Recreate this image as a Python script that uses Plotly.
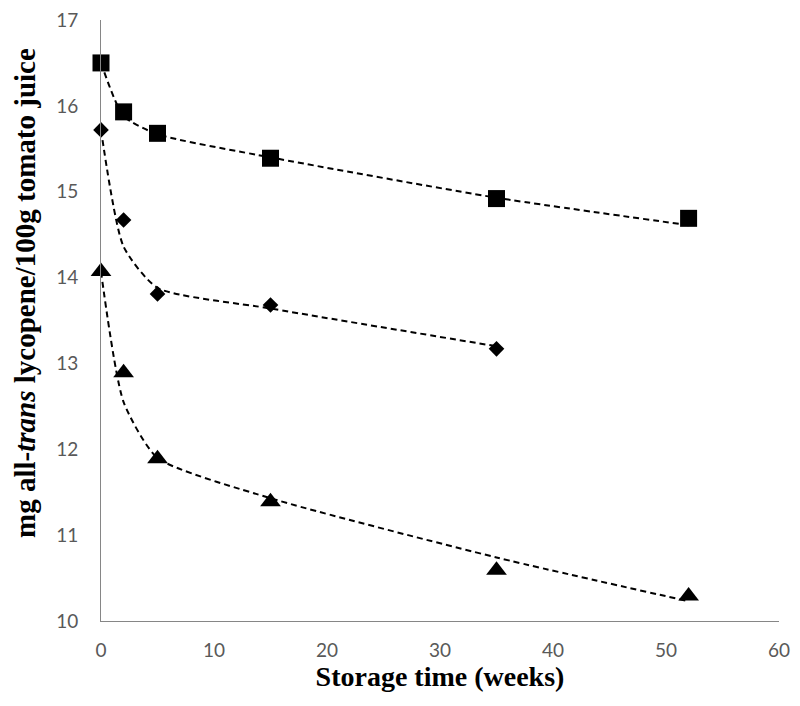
import plotly.graph_objects as go

weeks = [0, 2, 5, 15, 35, 52]
weeks_d = [0, 2, 5, 15, 35]

sq_vals = [16.50, 15.93, 15.68, 15.39, 14.92, 14.69]
di_vals = [15.72, 14.67, 13.81, 13.68, 13.17]
tr_vals = [14.07, 12.89, 11.89, 11.39, 10.59, 10.29]

sq_fit = [16.50, 15.88, 15.67, 15.40, 14.93, 14.61]
di_fit = [15.72, 14.36, 13.88, 13.64, 13.20]
tr_fit = [14.07, 12.55, 11.90, 11.43, 10.74, 10.23]

x_ticks = [0, 10, 20, 30, 40, 50, 60]
y_ticks = [10, 11, 12, 13, 14, 15, 16, 17]

fig = go.Figure()
dash = "6px,4px"
for xs, ys in [(weeks, sq_fit), (weeks_d, di_fit), (weeks, tr_fit)]:
    fig.add_trace(go.Scatter(x=xs, y=ys, mode="lines", cliponaxis=False,
                             line=dict(color="black", width=2, dash=dash, shape="spline", smoothing=0.6),
                             showlegend=False, hoverinfo="skip"))

fig.add_trace(go.Scatter(x=weeks, y=sq_vals, mode="markers", cliponaxis=False,
                         marker=dict(symbol="square", size=17, color="black"), showlegend=False))
fig.add_trace(go.Scatter(x=weeks_d, y=di_vals, mode="markers", cliponaxis=False,
                         marker=dict(symbol="diamond", size=12, color="black"), showlegend=False))
fig.add_trace(go.Scatter(x=weeks, y=tr_vals, mode="markers", cliponaxis=False,
                         marker=dict(symbol="triangle-up", size=18, color="black"), showlegend=False))

tick_font = dict(family="Lato", size=19, color="#595959")
fig.update_layout(
    width=792, height=698,
    margin=dict(l=93, r=21, t=12, b=85),
    paper_bgcolor="white", plot_bgcolor="white",
    xaxis=dict(range=[0, 60], tickvals=x_ticks, showgrid=False, zeroline=False,
               showline=True, linecolor="#868686", linewidth=1, ticks="",
               tickfont=tick_font, ticklabelstandoff=12, automargin=False,
               ticklabeloverflow="allow",
               title=dict(text="<b>Storage time (weeks)</b>",
                          font=dict(family="Liberation Serif", size=28, color="black"), standoff=4)),
    yaxis=dict(range=[10, 17], tickvals=y_ticks, showgrid=False, zeroline=False,
               showline=True, linecolor="#868686", linewidth=1, ticks="",
               tickfont=tick_font, ticklabelstandoff=18, automargin=False,
               ticklabeloverflow="allow"),
    annotations=[dict(text="<b>mg all-<i>trans</i> lycopene/100g tomato juice</b>",
                      xref="paper", yref="paper", x=-0.112, y=0.546,
                      xanchor="center", yanchor="middle", textangle=-90, showarrow=False,
                      font=dict(family="Liberation Serif", size=29, color="black"))],
)

fig.write_html("out.html")
